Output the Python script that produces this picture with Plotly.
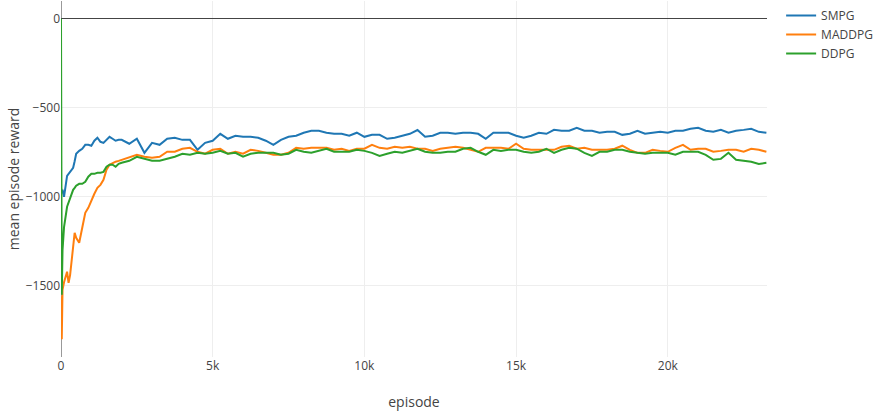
import plotly.graph_objects as go

# episodes for the early (dense) part and the later part
episodes_early = [0, 25, 50, 100, 200, 250, 300, 400, 450, 500, 600, 700, 800, 900, 1000,
                  1100, 1200, 1300, 1400, 1500, 1600, 1700, 1800, 1900]
episodes_late = list(range(2000, 23251, 250))

smpg_early = [-950, -980, -960, -1000, -882, -870, -865, -837, -800, -758, -742, -730, -708, -708, -713,
              -685, -668, -691, -697, -680, -663, -674, -685, -680]
maddpg_early = [-1560, -1800, -1522, -1480, -1421, -1483, -1440, -1270, -1202, -1230, -1258, -1174, -1090, -1062, -1017,
                -983, -950, -933, -905, -848, -820, -809, -803, -798]
ddpg_early = [0, -1550, -1300, -1170, -1056, -1030, -1006, -961, -950, -938, -927, -927, -916, -887, -871,
              -871, -865, -865, -860, -831, -820, -820, -831, -815]

smpg_late = [-680, -702, -674, -753, -697, -708, -674, -668, -680, -680, -736, -697,
             -685, -646, -674, -657, -663, -663, -668, -685, -708, -680, -663, -657,
             -640, -629, -629, -640, -646, -646, -657, -640, -663, -652, -652, -674,
             -668, -657, -646, -625, -663,
             -657, -640, -640, -646, -640, -640, -646, -674, -640, -640, -640, -657,
             -668, -657, -640, -646, -624, -629, -629, -612, -629, -629, -640, -635,
             -635, -652, -646, -629, -646, -640, -635, -640, -629, -629, -618, -612,
             -629, -635, -624, -640, -629, -624, -618, -635, -640]
maddpg_late = [-792, -775, -764, -775, -781, -775, -747, -747, -730, -725, -747, -758,
               -736, -730, -758, -747, -758, -736, -742, -753, -764, -764, -753, -725,
               -730, -725, -725, -725, -736, -730, -742, -730, -730, -708, -725, -730,
               -719, -725, -719, -730, -730,
               -742, -730, -725, -719, -725, -736, -747, -725, -725, -725, -730, -702,
               -730, -736, -736, -736, -736, -719, -713, -730, -725, -736, -736, -736,
               -730, -713, -736, -753, -753, -736, -742, -747, -725, -708, -736, -730,
               -730, -747, -742, -736, -736, -747, -730, -736, -747]
ddpg_late = [-809, -798, -775, -787, -798, -798, -787, -775, -758, -764, -753, -758,
             -753, -742, -758, -753, -775, -758, -753, -753, -753, -764, -758, -736,
             -747, -753, -742, -730, -747, -747, -747, -736, -742, -753, -770, -758,
             -747, -753, -742, -730, -747,
             -753, -753, -747, -747, -730, -725, -747, -764, -736, -742, -736, -736,
             -747, -753, -747, -730, -753, -736, -725, -730, -753, -770, -747, -747,
             -736, -736, -747, -753, -758, -753, -753, -753, -764, -747, -747, -747,
             -764, -792, -787, -753, -792, -798, -803, -815, -809]

x_all = episodes_early + episodes_late
series = [
    ("SMPG", smpg_early + smpg_late, "#1f77b4"),
    ("MADDPG", maddpg_early + maddpg_late, "#ff7f0e"),
    ("DDPG", ddpg_early + ddpg_late, "#2ca02c"),
]

fig = go.Figure()
for name, ys, color in series:
    fig.add_trace(go.Scatter(x=x_all, y=ys, mode="lines", name=name,
                             line=dict(color=color, width=2)))

fig.update_layout(
    width=883, height=415,
    margin=dict(l=61, r=116, t=1, b=58, autoexpand=False),
    paper_bgcolor="white", plot_bgcolor="white",
    font=dict(family="Open Sans, sans-serif", size=12, color="#444"),
    legend=dict(x=1.02, y=1, font=dict(size=12)),
    showlegend=True,
)
fig.update_xaxes(range=[0, 23270], tickvals=[0, 5000, 10000, 15000, 20000],
                 ticktext=["0", "5k", "10k", "15k", "20k"], automargin=False,
                 showgrid=True, gridcolor="#eeeeee", zeroline=True, zerolinecolor="#999999",
                 zerolinewidth=1, showline=False, ticks="",
                 title=dict(text="episode", font=dict(size=14), standoff=24))
fig.update_yaxes(range=[-1900, 100], tickvals=[0, -500, -1000, -1500], automargin=False,
                 showgrid=True, gridcolor="#eeeeee", zeroline=True, zerolinecolor="#444444",
                 zerolinewidth=1, showline=False, ticks="",
                 title=dict(text="mean episode reward", font=dict(size=14), standoff=2))

fig.write_html("out.html", config={"displayModeBar": False},
               post_script="document.body.style.margin='0';")
